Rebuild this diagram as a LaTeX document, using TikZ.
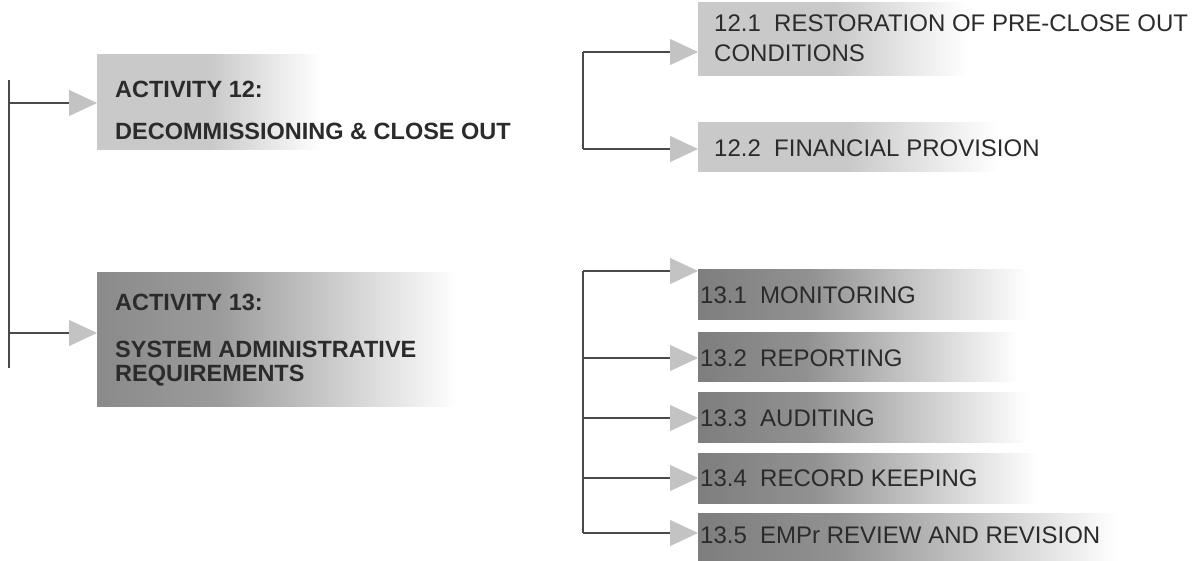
\documentclass[tikz,border=0pt]{standalone}
\usepackage{fontspec}
\setmainfont{Liberation Sans}
\usetikzlibrary{arrows.meta}
\definecolor{lightg}{HTML}{C9C9C9}
\definecolor{darkg}{HTML}{7E7E7E}
\definecolor{midg}{HTML}{8A8A8A}
\definecolor{tipg}{HTML}{C3C3C3}
\definecolor{lineg}{HTML}{4A4A4A}
\definecolor{txt}{HTML}{2B2B2B}
\pgfdeclarehorizontalshading{lightfade}{100bp}{color(0bp)=(lightg); color(25bp)=(lightg); color(50bp)=(lightg); color(75bp)=(white); color(100bp)=(white)}
\pgfdeclarehorizontalshading{darkfade}{100bp}{color(0bp)=(darkg); color(25bp)=(darkg); color(42bp)=(darkg!85!white); color(75bp)=(white); color(100bp)=(white)}
\pgfdeclarehorizontalshading{midfade}{100bp}{color(0bp)=(midg); color(25bp)=(midg); color(42bp)=(midg!85!white); color(75bp)=(white); color(100bp)=(white)}
\begin{document}
\begin{tikzpicture}[x=1pt,y=-1pt,
  box/.style={anchor=north west, inner sep=0pt, outer sep=0pt, draw=none},
  lbox/.style={box, shade, shading=lightfade},
  dbox/.style={box, shade, shading=darkfade},
  mbox/.style={box, shade, shading=midfade},
  btxt/.style={anchor=west, inner sep=0pt, font=\fontsize{23.5}{26}\selectfont\bfseries, text=txt},
  rtxt/.style={anchor=west, inner sep=0pt, font=\fontsize{24}{26}\selectfont, text=txt},
  spine/.style={draw=lineg, line width=1.6pt},
  conn/.style={draw=lineg, line width=1.1pt, -{Triangle[length=28pt,width=26pt,fill=tipg,color=tipg]}}
]
\useasboundingbox (0,0) rectangle (1195,561);

% ---------- left column ----------
\node[lbox, minimum width=225pt, minimum height=95pt] (b12) at (97,55) {};
\node[mbox, minimum width=360pt, minimum height=134pt] (b13) at (97,273) {};
\node[btxt] (t12a) at (115,89) {ACTIVITY 12:};
\node[btxt] (t12b) at (115,131) {DECOMMISSIONING \& CLOSE OUT};
\node[btxt] (t13a) at (115,302) {ACTIVITY 13:};
\node[btxt] (t13b) at (115,349) {SYSTEM ADMINISTRATIVE};
\node[btxt] (t13c) at (115,376) {REQUIREMENTS};

\coordinate (L0) at (9,80);
\coordinate (L1) at (9,368);
\coordinate (a12) at (9,103);
\coordinate (a13) at (9,333);
\draw[spine] (L0) -- (L1);
\draw[conn] (a12) -- (a12 -| b12.west);
\draw[conn] (a13) -- (a13 -| b13.west);

% ---------- right column, activity 12 ----------
\node[lbox, minimum width=270pt, minimum height=73pt] (b121) at (698,3) {};
\node[lbox, minimum width=300pt, minimum height=49pt] (b122) at (698,123) {};
\node[rtxt] (t121a) at (714,23) {12.1\ \ RESTORATION OF PRE-CLOSE OUT};
\node[rtxt] (t121b) at (714,53) {CONDITIONS};
\node[rtxt] (t122) at (714,148) {12.2\ \ FINANCIAL PROVISION};

\coordinate (a121) at (583,52);
\coordinate (a122) at (583,149);
\draw[spine, line width=1.1pt] (a121) -- (a122);
\draw[conn] (a121) -- (a121 -| b121.west);
\draw[conn] (a122) -- (a122 -| b122.west);

% ---------- right column, activity 13 ----------
\node[dbox, minimum width=330pt, minimum height=50pt] (b131) at (698,270) {};
\node[dbox, minimum width=320pt, minimum height=49pt] (b132) at (698,333) {};
\node[dbox, minimum width=330pt, minimum height=49pt] (b133) at (698,393) {};
\node[dbox, minimum width=340pt, minimum height=50pt] (b134) at (698,453) {};
\node[dbox, minimum width=420pt, minimum height=48pt] (b135) at (698,513) {};
\node[rtxt] (t131) at (700,295) {13.1\ \ MONITORING};
\node[rtxt] (t132) at (700,358) {13.2\ \ REPORTING};
\node[rtxt] (t133) at (700,418) {13.3\ \ AUDITING};
\node[rtxt] (t134) at (700,478) {13.4\ \ RECORD KEEPING};
\node[rtxt] (t135) at (700,535) {13.5\ \ EMPr REVIEW AND REVISION};

\coordinate (a131) at (583,271);
\coordinate (a132) at (583,358);
\coordinate (a133) at (583,418);
\coordinate (a134) at (583,478);
\coordinate (a135) at (583,533);
\draw[spine, line width=1.1pt] (a131) -- (a135);
\draw[conn] (a131) -- (a131 -| b131.west);
\draw[conn] (a132) -- (a132 -| b132.west);
\draw[conn] (a133) -- (a133 -| b133.west);
\draw[conn] (a134) -- (a134 -| b134.west);
\draw[conn] (a135) -- (a135 -| b135.west);
\end{tikzpicture}
\end{document}
